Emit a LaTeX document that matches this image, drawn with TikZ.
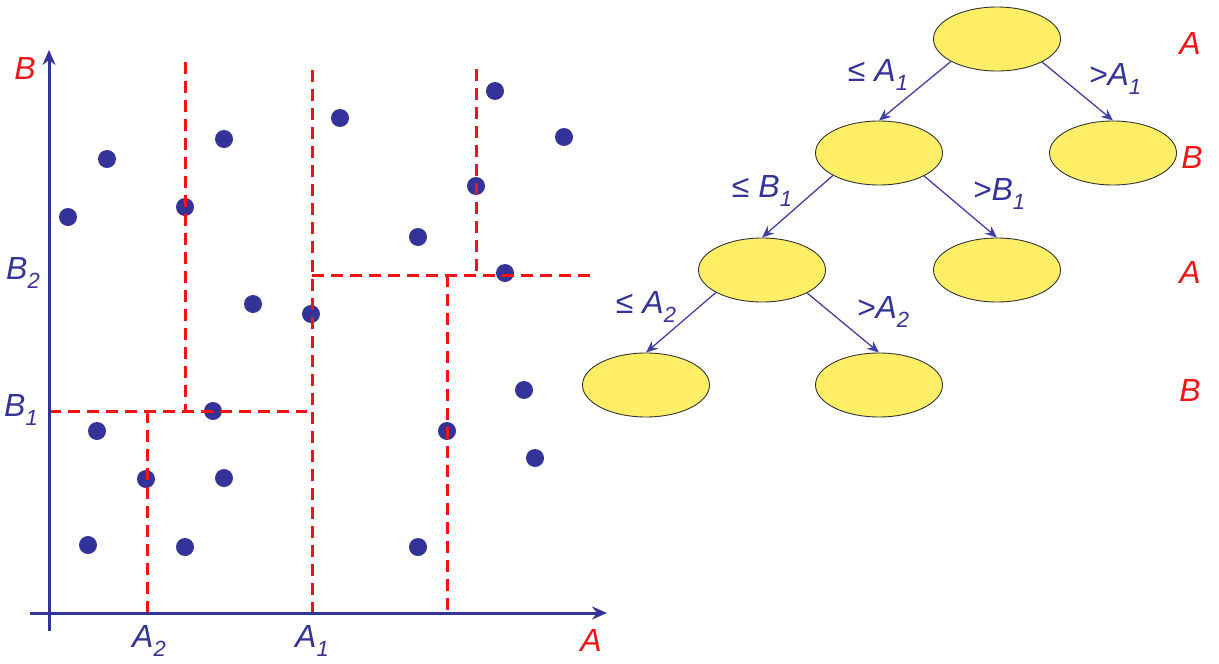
\documentclass[tikz,border=0pt]{standalone}
\usepackage{fontspec}
\setmainfont{Liberation Sans}
\usetikzlibrary{arrows.meta,shapes.geometric}
\definecolor{pblue}{RGB}{51,51,153}
\definecolor{lblue}{RGB}{64,64,170}
\definecolor{pred}{RGB}{240,20,20}
\definecolor{pyel}{RGB}{255,238,102}
\newcommand{\lblsub}[2]{#1\raisebox{-0.3em}{\fontsize{22}{22}\selectfont #2}}
\begin{document}
\begin{tikzpicture}[x=1pt,y=-1pt,
  lab/.style={font=\fontsize{32}{32}\selectfont\itshape, inner sep=0pt},
  bluelab/.style={lab, text=pblue},
  redlab/.style={lab, text=pred},
  axis/.style={draw=pblue, line width=3pt, -{Stealth[length=15pt,width=13pt,inset=5pt]}},
  split/.style={draw=pred, line width=3pt, dash pattern=on 12pt off 7pt},
  dot/.style={fill=pblue},
  leaf/.style={ellipse, draw=black!80, line width=0.9pt, fill=pyel, minimum width=127pt, minimum height=64pt, inner sep=0pt},
  edge/.style={draw=lblue, line width=1.3pt, -{Stealth[length=12pt,width=10pt,inset=4pt]}}
]
\useasboundingbox (0,0) rectangle (1219,664);

% data points
\foreach \px/\py in {107/159, 68/217, 224/139, 185/207, 253/304, 311/314, 340/118, 418/237,
  495/91, 564/137, 476/186, 505/273, 524/390, 447/431, 535/458, 418/547, 97/431, 213/411,
  146/479, 224/478, 88/545, 185/547}
  \fill[dot] (\px,\py) circle (9);

% split lines
\draw[split] (185,62) -- (185,411);
\draw[split] (49,411) -- (307,411);
\draw[split] (147,411) -- (147,613);
\draw[split] (312,70) -- (312,613);
\draw[split] (312,275) -- (592,275);
\draw[split] (476,69) -- (476,275);
\draw[split] (447,275) -- (447,613);

% axes
\coordinate (ybot) at (49,631);
\coordinate (ytop) at (49,50);
\coordinate (xleft) at (30,613);
\coordinate (xright) at (607,613);
\draw[axis] (ybot) -- (ytop);
\draw[axis] (xleft) -- (xright);

% axis labels
\node[redlab] (lB) at (25,68) {B};
\node[bluelab] (lB2) at (23,273) {\lblsub{B}{2}};
\node[bluelab] (lB1) at (21,410) {\lblsub{B}{1}};
\node[bluelab] (lA2) at (149,641) {\lblsub{A}{2}};
\node[bluelab] (lA1) at (312,641) {\lblsub{A}{1}};
\node[redlab] (lA) at (591,640) {A};

% tree
\node[leaf] (r) at (997,39) {};
\node[leaf] (n1) at (879,153) {};
\node[leaf] (n2) at (1113,153) {};
\node[leaf] (n3) at (762,270) {};
\node[leaf] (n4) at (997,270) {};
\node[leaf] (n5) at (646,385) {};
\node[leaf] (n6) at (879,385) {};

\draw[edge] (r.206) -- (n1.north);
\draw[edge] (r.333) -- (n2.north);
\draw[edge] (n1.206) -- (n3.north);
\draw[edge] (n1.333) -- (n4.north);
\draw[edge] (n3.206) -- (n5.north);
\draw[edge] (n3.333) -- (n6.north);

% edge labels
\node[bluelab] (e1) at (878,75) {≤ \lblsub{A}{1}};
\node[bluelab] (e2) at (1115,79) {>\lblsub{A}{1}};
\node[bluelab] (e3) at (762,191) {≤ \lblsub{B}{1}};
\node[bluelab] (e4) at (999,194) {>\lblsub{B}{1}};
\node[bluelab] (e5) at (646,307) {≤ \lblsub{A}{2}};
\node[bluelab] (e6) at (883,312) {>\lblsub{A}{2}};

% level labels
\node[redlab] (t1) at (1190,43) {A};
\node[redlab] (t2) at (1192,157) {B};
\node[redlab] (t3) at (1190,272) {A};
\node[redlab] (t4) at (1190,390) {B};
\end{tikzpicture}
\end{document}
